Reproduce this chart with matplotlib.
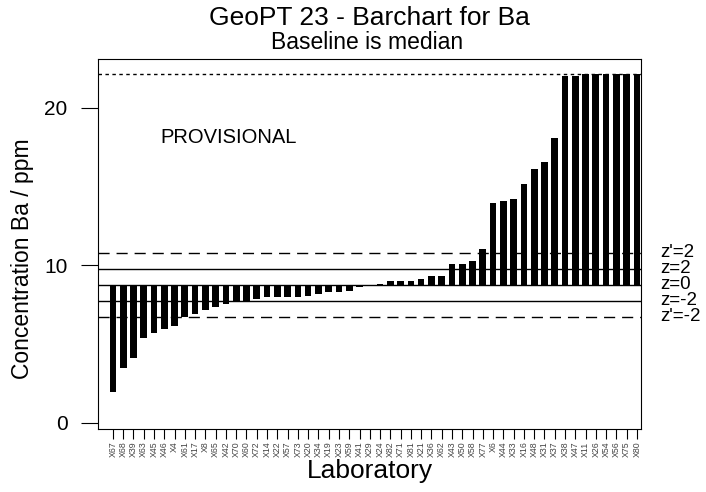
import numpy as np
import matplotlib
matplotlib.use("Agg")
from matplotlib import pyplot as plt

labs = ["X67", "X68", "X39", "X63", "X45", "X46", "X4", "X61", "X17", "X8",
        "X65", "X42", "X70", "X60", "X72", "X14", "X22", "X57", "X73", "X20",
        "X34", "X19", "X23", "X59", "X41", "X29", "X24", "X82", "X71", "X81",
        "X21", "X36", "X62", "X43", "X50", "X58", "X77", "X6", "X44", "X33",
        "X16", "X48", "X31", "X37", "X38", "X47", "X11", "X26", "X54", "X56",
        "X75", "X80"]
vals = [1.93, 3.50, 4.09, 5.36, 5.68, 5.96, 6.13, 6.70, 6.89, 7.14,
        7.36, 7.57, 7.65, 7.74, 7.86, 7.97, 7.97, 7.97, 7.97, 8.05,
        8.18, 8.29, 8.29, 8.39, 8.65, 8.74, 8.82, 9.03, 9.03, 9.03,
        9.14, 9.35, 9.35, 10.05, 10.05, 10.26, 11.06, 13.95, 14.07, 14.24,
        15.17, 16.09, 16.57, 18.08, 22.05, 22.05, 22.12, 22.12, 22.12, 22.12,
        22.12, 22.12]
median = 8.77
z_lines = [10.79, 9.77, 8.77, 7.75, 6.72]
z_names = ["z'=2", "z=2", "z=0", "z=-2", "z'=-2"]
cap = 22.12

plt.rcParams['font.family'] = ['Liberation Sans', 'DejaVu Sans']

fig = plt.figure(figsize=(7.06, 4.92), dpi=100)
ax = fig.add_axes([0.1388, 0.128, 0.7692, 0.752])

x = np.arange(len(vals))
v = np.array(vals)
ax.bar(x, v - median, bottom=median, width=0.65, color='black')

ax.axhline(cap, color='black', lw=1, ls=(0, (2.5, 2.5)))
ax.axhline(z_lines[0], color='black', lw=1, ls=(0, (8, 5)))
ax.axhline(z_lines[1], color='black', lw=1)
ax.axhline(z_lines[2], color='black', lw=1)
ax.axhline(z_lines[3], color='black', lw=1)
ax.axhline(z_lines[4], color='black', lw=1, ls=(0, (8, 5)))

trans = ax.get_yaxis_transform()
for yv, name in zip(z_lines, z_names):
    ax.text(1.035, yv, name, transform=trans, fontsize=13.5, va='center',
            ha='left', clip_on=False)

ax.text(0.114, 18.1, "PROVISIONAL", transform=trans,
        fontsize=14.5, ha='left', va='center')

ax.set_xlim(-1.45, 51.4)
ax.set_ylim(-0.4, 23.1)
ax.set_yticks([0, 10, 20])
ax.tick_params(axis='y', labelsize=15, length=12, pad=10, direction='out')
ax.set_xticks(x)
ax.set_xticklabels(labs, rotation=90, fontsize=6.3, color='#444444')
ax.tick_params(axis='x', length=7, pad=2, direction='out')

ax.set_ylabel("Concentration Ba / ppm", fontsize=16.5)
ax.yaxis.set_label_coords(-0.118, 0.46)
ax.set_xlabel("Laboratory", fontsize=19, labelpad=1)

fig.text(0.523, 0.963, "GeoPT 23 - Barchart for Ba", fontsize=19, ha='center', va='center')
fig.text(0.520, 0.913, "Baseline is median", fontsize=16.5, ha='center', va='center')

fig.savefig("out.png", dpi=100)
